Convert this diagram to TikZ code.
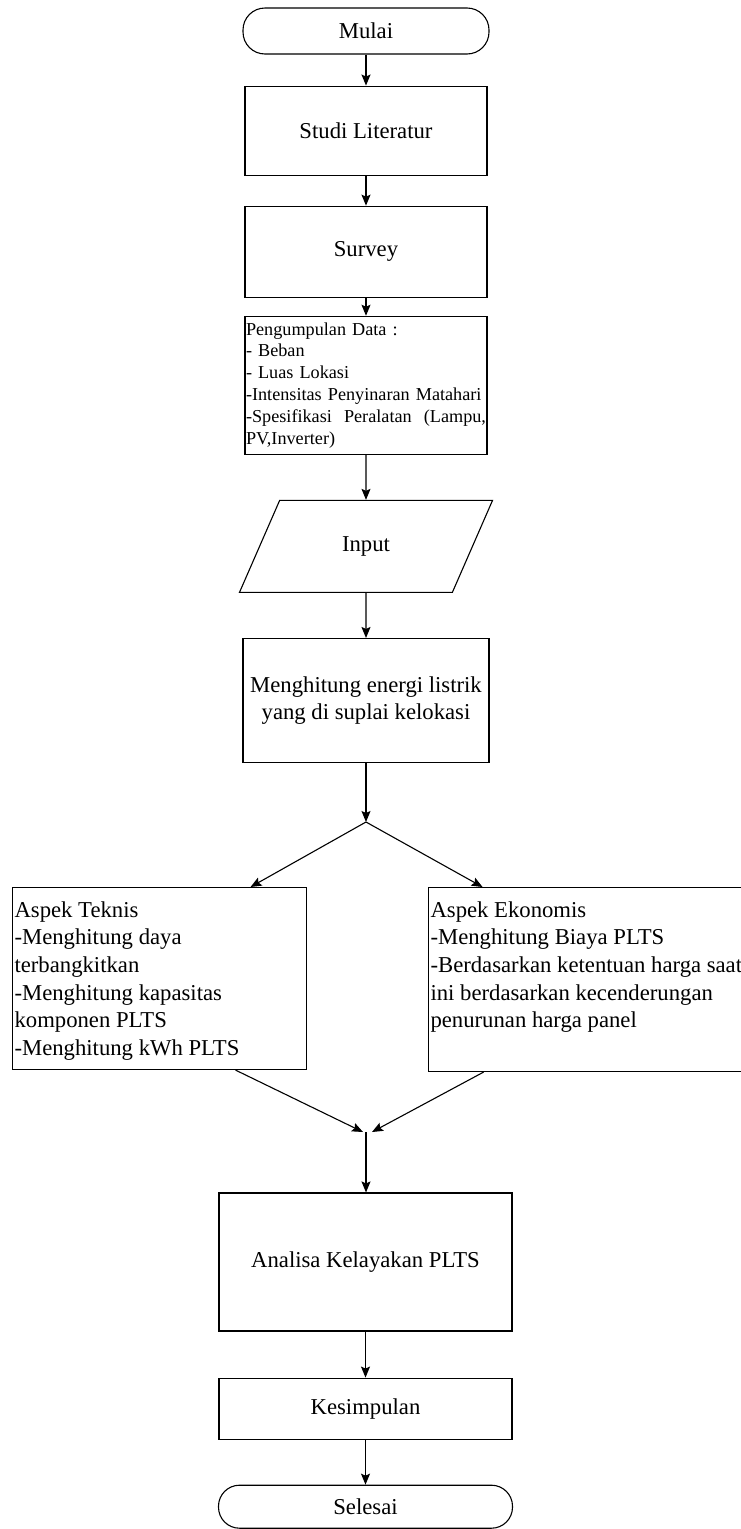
\documentclass[tikz,border=0pt]{standalone}
\usepackage{fontspec}
\setmainfont{Liberation Serif}
\usetikzlibrary{arrows.meta,positioning,calc,shapes.geometric}
\hyphenpenalty=10000
\exhyphenpenalty=10000

\begin{document}
\begin{tikzpicture}[x=1pt,y=1pt,line width=1.1pt]
      \tikzstyle{box}=[rectangle,draw,minimum width=242pt,inner sep=2pt,align=center,font=\fontsize{22.7}{27.6}\selectfont]
      \tikzstyle{term}=[box,rounded corners=22pt]
      \tikzstyle{io}=[trapezium,draw,trapezium left angle=60.5,trapezium right angle=119.5,trapezium stretches=true,minimum width=254pt,minimum height=92pt,inner sep=0pt,font=\fontsize{22.7}{27.6}\selectfont]
      \tikzstyle{arr}=[-{Stealth[length=11pt,width=9pt,inset=2pt]}]
      \useasboundingbox (0,0) rectangle (741,-1529);
      \node[term,minimum width=246pt,minimum height=46pt] (mulai) at (366,-31) {Mulai};
      \node[box,minimum height=89pt,below=31pt of mulai] (studi) {Studi Literatur};
      \node[box,minimum height=91pt,below=30pt of studi] (survey) {Survey};
      \node[box,minimum height=138pt,text width=240pt,inner xsep=1pt,align=left,font=\fontsize{18.2}{21.8}\selectfont,below=18pt of survey] (data) {Pengumpulan Data :\\- Beban\\- Luas Lokasi\\-Intensitas Penyinaran Matahari\\-Spesifikasi\hfill Peralatan\hfill (Lampu,\\PV,Inverter)};
      \node[io,below=45pt of data] (input) {Input};
      \node[box,minimum width=246pt,minimum height=124pt,below=45pt of input] (energi) {Menghitung energi listrik\\yang di suplai kelokasi};
      \coordinate (split) at (366,-822);
      \node[box,minimum width=0pt,anchor=north west] (teknis) at (12,-887) {\parbox[c][178pt][t]{290pt}{\vspace*{12pt}Aspek Teknis\\-Menghitung daya\\terbangkitkan\\-Menghitung kapasitas\\komponen PLTS\\-Menghitung kWh PLTS}};
      \node[box,minimum width=0pt,anchor=north west] (ekonomis) at (428,-887) {\parbox[c][180pt][t]{334pt}{\vspace*{12pt}Aspek Ekonomis\\-Menghitung Biaya PLTS\\-Berdasarkan ketentuan harga saat\\ini berdasarkan kecenderungan\\penurunan harga panel}};
      \coordinate (merge) at (366,-1132);
      \node[box,minimum width=293pt,minimum height=138pt] (analisa) at (365.5,-1262) {Analisa Kelayakan PLTS};
      \node[box,minimum width=293pt,minimum height=61pt,below=46pt of analisa] (kesimpulan) {Kesimpulan};
      \node[term,minimum width=294pt,minimum height=43pt,rounded corners=21pt,below=45pt of kesimpulan] (selesai) {Selesai};
      \draw[arr] (mulai) -- (studi);
      \draw[arr] (studi) -- (survey);
      \draw[arr] (survey) -- (data);
      \draw[arr] (data) -- (input);
      \draw[arr] (input) -- (energi);
      \draw[arr] (energi) -- (split);
      \draw[arr] (split) -- ([xshift=91pt]teknis.north);
      \draw[arr] (split) -- ([xshift=-115pt]ekonomis.north);
      \draw[arr] ([xshift=76pt]teknis.south) -- ([xshift=-3pt]merge);
      \draw[arr] ([xshift=-114pt]ekonomis.south) -- ([xshift=6pt]merge);
      \draw[arr] (merge) -- (merge |- analisa.north);
      \draw[arr] (analisa) -- (kesimpulan);
      \draw[arr] (kesimpulan) -- (selesai);
    \end{tikzpicture}
\end{document}
